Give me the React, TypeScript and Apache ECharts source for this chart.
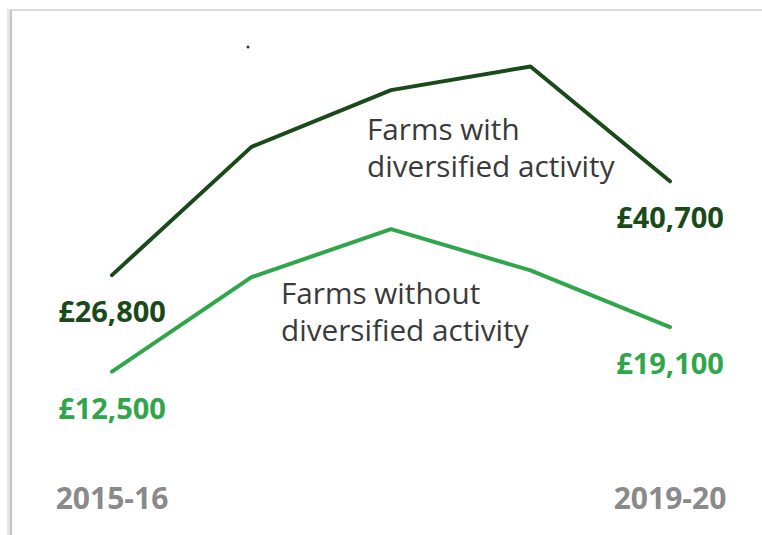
import React, { useEffect, useRef } from "react";
import * as echarts from "echarts";

const years = ["2015-16", "2016-17", "2017-18", "2018-19", "2019-20"];
const withDiversified = [26800, 45800, 54200, 57700, 40700];
const withoutDiversified = [12500, 26500, 33600, 27500, 19100];
const withLabel = "Farms with\ndiversified activity";
const withoutLabel = "Farms without\ndiversified activity";

const DARK = "#1a4a1a";
const LIGHT = "#30a64a";
const GREY = "#8a8a8a";
const TEXT = "#3a3a3a";
const FONT = "'Open Sans', sans-serif";

function fmt(v: number) {
  return "£" + v.toLocaleString("en-GB");
}

function toData(values: number[]) {
  const last = values.length - 1;
  return values.map((v, i) => ({
    value: v,
    label: { show: i === 0 || i === last },
  }));
}

export default function App() {
  const ref = useRef<HTMLDivElement>(null);
  useEffect(() => {
    if (!ref.current) return;
    const chart = echarts.init(ref.current, null, { renderer: "svg" });
    const labelBase = {
      position: "bottom" as const,
      distance: 21,
      fontFamily: FONT,
      fontWeight: "bold" as const,
      fontSize: 29,
      formatter: (p: any) => fmt(p.value),
    };
    chart.setOption({
      animation: false,
      backgroundColor: "#ffffff",
      grid: { left: 112, right: 92, top: 51, bottom: 79 },
      xAxis: {
        type: "category",
        data: years,
        boundaryGap: false,
        axisLine: { show: false },
        axisTick: { show: false },
        splitLine: { show: false },
        axisLabel: {
          interval: (index: number) => index === 0 || index === years.length - 1,
          color: GREY,
          fontFamily: FONT,
          fontWeight: "bold",
          fontSize: 30,
          margin: 26,
        },
      },
      yAxis: {
        type: "value",
        min: 0,
        max: 60000,
        show: false,
        splitLine: { show: false },
      },
      series: [
        {
          name: "Farms with diversified activity",
          type: "line",
          data: toData(withDiversified),
          symbol: "circle",
          symbolSize: 0,
          lineStyle: { color: DARK, width: 4, cap: "round", join: "round" },
          itemStyle: { color: DARK },
          label: { ...labelBase, color: DARK },
        },
        {
          name: "Farms without diversified activity",
          type: "line",
          data: toData(withoutDiversified),
          symbol: "circle",
          symbolSize: 0,
          lineStyle: { color: LIGHT, width: 4, cap: "round", join: "round" },
          itemStyle: { color: LIGHT },
          label: { ...labelBase, color: LIGHT },
        },
      ],
      graphic: [
        {
          type: "rect",
          shape: { x: 7, y: 9, width: 4, height: 530 },
          style: { fill: "#e6e6e6" },
        },
        {
          type: "line",
          shape: { x1: 11, y1: 10, x2: 11, y2: 540 },
          style: { stroke: "#c4c4c4", lineWidth: 2 },
        },
        {
          type: "line",
          shape: { x1: 11, y1: 10, x2: 770, y2: 10 },
          style: { stroke: "#dcdcdc", lineWidth: 2 },
        },
        {
          type: "circle",
          shape: { cx: 248, cy: 47, r: 1.5 },
          style: { fill: "#2a2a6a" },
        },
        {
          type: "text",
          left: 367,
          top: 110,
          style: {
            text: withLabel,
            fill: TEXT,
            font: `29.7px ${FONT}`,
            lineHeight: 37,
          },
        },
        {
          type: "text",
          left: 281,
          top: 274,
          style: {
            text: withoutLabel,
            fill: TEXT,
            font: `29.7px ${FONT}`,
            lineHeight: 37,
          },
        },
      ],
    });
    return () => chart.dispose();
  }, []);
  return (
    <div
      ref={ref}
      style={{ position: "fixed", left: 0, top: 0, width: 762, height: 535 }}
    />
  );
}
